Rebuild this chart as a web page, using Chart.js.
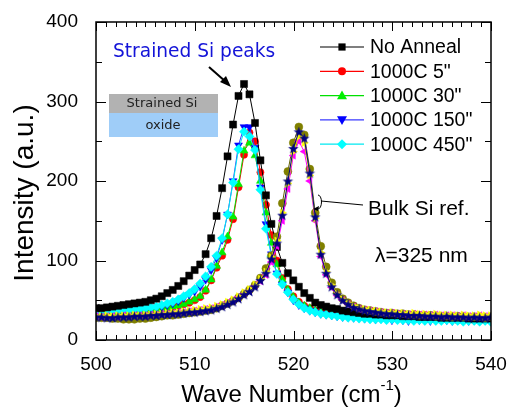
<!DOCTYPE html>
<html>
<head>
<meta charset="utf-8">
<script src="https://cdn.jsdelivr.net/npm/chart.js@4.4.1/dist/chart.umd.min.js"></script>
<style>
  html, body { margin: 0; padding: 0; background: #fff; }
  #wrap { width: 512px; height: 410px; }
</style>
</head>
<body>
<div id="wrap"><canvas id="ramanChart" width="512" height="410"></canvas></div>
<script>
// ---- data ----
const waveNumbers = [
  500.00, 500.56, 501.11, 501.67, 502.22, 502.78, 503.33, 503.89, 504.44, 505.00,
  505.55, 506.11, 506.66, 507.22, 507.77, 508.33, 508.88, 509.44, 509.99, 510.55,
  511.10, 511.66, 512.21, 512.77, 513.32, 513.88, 514.43, 514.99, 515.54, 516.10,
  516.65, 517.21, 517.76, 518.32, 518.87, 519.43, 519.98, 520.54, 521.09, 521.65,
  522.20, 522.76, 523.31, 523.87, 524.42, 524.98, 525.53, 526.09, 526.64, 527.20,
  527.75, 528.31, 528.86, 529.42, 529.97, 530.53, 531.08, 531.64, 532.19, 532.75,
  533.30, 533.86, 534.41, 534.97, 535.52, 536.08, 536.63, 537.19, 537.74, 538.30,
  538.85, 539.41, 539.96
];

// strained Si samples
const noAnneal = [
  40, 40, 41, 42, 43, 44, 45, 46, 47, 48,
  50, 52, 55, 59, 63, 68, 74, 81, 88, 95,
  108, 128, 156, 191, 231, 271, 307, 322, 309, 273,
  226, 182, 146, 117, 97, 84, 75, 67, 59, 53,
  47, 44, 42, 40, 39, 37, 36, 35, 34, 33,
  33, 32, 32, 31, 31, 31, 30, 30, 30, 29,
  29, 29, 29, 28, 28, 28, 28, 28, 27, 27,
  27, 27, 27
];
const anneal5 = [
  34, 34, 34, 35, 35, 35, 36, 36, 36, 37,
  37, 38, 39, 40, 41, 43, 45, 47, 50, 54,
  62, 75, 91, 106, 126, 152, 192, 233, 261, 250,
  211, 170, 132, 100, 78, 64, 55, 48, 43, 40,
  37, 35, 34, 33, 32, 31, 30, 30, 29, 29,
  28, 28, 28, 27, 27, 27, 27, 26, 26, 27,
  26, 26, 26, 27, 26, 26, 25, 26, 26, 25,
  26, 25, 25
];
const anneal30 = [
  34, 34, 35, 35, 35, 36, 36, 36, 37, 37,
  38, 38, 39, 40, 42, 43, 45, 48, 51, 55,
  63, 76, 93, 110, 130, 155, 196, 238, 248, 232,
  200, 160, 122, 95, 76, 63, 54, 47, 43, 40,
  37, 35, 33, 32, 31, 30, 30, 29, 29, 28,
  28, 28, 27, 27, 27, 26, 26, 26, 26, 26,
  26, 25, 26, 26, 25, 25, 26, 25, 25, 25,
  25, 25, 26
];
const anneal150 = [
  35, 35, 35, 36, 36, 36, 37, 37, 38, 39,
  40, 41, 42, 44, 46, 49, 53, 57, 61, 67,
  76, 88, 103, 126, 158, 200, 245, 268, 268, 242,
  192, 146, 108, 84, 70, 60, 50, 44, 40, 37,
  35, 33, 32, 31, 30, 29, 29, 28, 28, 27,
  27, 26, 27, 26, 25, 26, 25, 24, 26, 25,
  25, 24, 25, 26, 25, 24, 25, 25, 24, 25,
  24, 25, 24
];
const anneal450 = [
  36, 36, 37, 37, 37, 38, 38, 39, 39, 40,
  41, 42, 44, 46, 48, 51, 55, 59, 64, 71,
  80, 92, 106, 128, 158, 198, 240, 262, 256, 239,
  189, 140, 105, 83, 70, 60, 51, 45, 40, 37,
  35, 33, 32, 31, 30, 29, 28, 28, 27, 27,
  26, 26, 26, 25, 26, 25, 25, 25, 24, 25,
  24, 25, 24, 24, 25, 24, 24, 23, 24, 24,
  23, 24, 23
];

// bulk Si reference scans
const bulkOlive = [
  28, 28, 28, 27, 27, 26, 26, 26, 27, 27,
  28, 29, 30, 31, 31, 32, 33, 34, 35, 36,
  37, 38, 40, 43, 46, 49, 53, 58, 63, 69,
  78, 90, 106, 130, 172, 212, 248, 268, 258, 215,
  160, 118, 92, 72, 60, 52, 47, 43, 40, 38,
  37, 36, 35, 34, 34, 33, 33, 32, 32, 31,
  31, 31, 30, 30, 30, 29, 30, 29, 29, 29,
  29, 28, 29
];
const bulkMagenta = [
  30, 29, 30, 30, 29, 31, 30, 31, 31, 31,
  32, 32, 33, 33, 34, 35, 35, 36, 37, 38,
  39, 40, 42, 44, 47, 50, 54, 58, 62, 68,
  74, 82, 98, 118, 150, 190, 232, 250, 237, 200,
  150, 105, 82, 66, 56, 50, 45, 42, 39, 38,
  37, 36, 35, 34, 34, 33, 33, 32, 33, 32,
  32, 31, 32, 31, 31, 31, 30, 31, 30, 30,
  31, 30, 30
];
const bulkYellow = [
  30, 30, 31, 30, 31, 31, 31, 32, 31, 32,
  32, 33, 33, 34, 35, 35, 36, 37, 38, 39,
  40, 41, 43, 45, 48, 51, 55, 60, 64, 70,
  77, 86, 104, 125, 160, 197, 237, 256, 248, 207,
  153, 110, 86, 69, 58, 51, 46, 43, 40, 39,
  38, 37, 36, 35, 35, 34, 34, 33, 34, 33,
  33, 32, 33, 32, 32, 32, 31, 32, 31, 31,
  32, 31, 31
];
const bulkNavy = [
  29, 29, 28, 28, 29, 29, 29, 30, 30, 30,
  31, 31, 32, 32, 33, 33, 34, 35, 35, 36,
  37, 38, 40, 42, 45, 48, 52, 57, 61, 67,
  75, 84, 102, 122, 157, 200, 241, 262, 254, 210,
  155, 108, 84, 67, 57, 50, 45, 41, 39, 37,
  36, 35, 34, 33, 33, 32, 32, 31, 31, 31,
  30, 30, 30, 29, 30, 29, 29, 29, 28, 29,
  28, 28, 29
];

const xTicks = [500, 510, 520, 530, 540];
const yTicks = [0, 100, 200, 300, 400];
const legendLabels = ['No Anneal', '1000C 5"', '1000C 30"', '1000C 150"', '1000C 450"'];

const FONT = '"Liberation Sans", Arial, sans-serif';

function toPoints(values) {
  return values.map((v, i) => ({ x: waveNumbers[i], y: v }));
}

// filled five point star used for one bulk reference scan
function makeStar(color, r) {
  const c = document.createElement('canvas');
  const s = Math.ceil(r * 2 + 2);
  c.width = s; c.height = s;
  const g = c.getContext('2d');
  g.fillStyle = color;
  g.beginPath();
  for (let i = 0; i < 10; i++) {
    const rr = i % 2 === 0 ? r : r * 0.42;
    const a = -Math.PI / 2 + i * Math.PI / 5;
    const px = s / 2 + rr * Math.cos(a);
    const py = s / 2 + 0.5 + rr * Math.sin(a);
    if (i === 0) g.moveTo(px, py); else g.lineTo(px, py);
  }
  g.closePath();
  g.fill();
  return c;
}

function series(label, values, color, lineColor, style, radius, rotation, order) {
  return {
    label: label,
    data: toPoints(values),
    borderColor: lineColor,
    backgroundColor: color,
    borderWidth: 1,
    pointStyle: style,
    pointRadius: radius,
    pointRotation: rotation,
    pointBackgroundColor: color,
    pointBorderColor: color,
    pointBorderWidth: 0.5,
    tension: 0,
    order: order
  };
}

// small marker drawer for the hand placed legend
function legendMarker(ctx, style, x, y, color) {
  ctx.fillStyle = color;
  ctx.beginPath();
  if (style === 'rect') {
    ctx.rect(x - 3.6, y - 3.6, 7.2, 7.2);
  } else if (style === 'circle') {
    ctx.arc(x, y, 4, 0, Math.PI * 2);
  } else if (style === 'up') {
    ctx.moveTo(x, y - 5); ctx.lineTo(x + 5, y + 3.6); ctx.lineTo(x - 5, y + 3.6);
  } else if (style === 'down') {
    ctx.moveTo(x, y + 5); ctx.lineTo(x + 5, y - 3.6); ctx.lineTo(x - 5, y - 3.6);
  } else if (style === 'diamond') {
    ctx.moveTo(x, y - 5); ctx.lineTo(x + 5, y); ctx.lineTo(x, y + 5); ctx.lineTo(x - 5, y);
  }
  ctx.closePath();
  ctx.fill();
}

const decorations = {
  id: 'decorations',
  afterDatasetsDraw(chart) {
    const ctx = chart.ctx;
    const area = chart.chartArea;
    const xs = chart.scales.x;
    const ys = chart.scales.y;
    ctx.save();

    // inward ticks on all four sides
    ctx.strokeStyle = '#000';
    ctx.lineWidth = 1;
    ctx.beginPath();
    for (let w = 500; w <= 540; w++) {
      const px = Math.round(xs.getPixelForValue(w)) + 0.5;
      const len = (w % 10 === 0) ? 9 : 5;
      ctx.moveTo(px, area.bottom); ctx.lineTo(px, area.bottom - len);
      ctx.moveTo(px, area.top); ctx.lineTo(px, area.top + len);
    }
    for (let v = 0; v <= 400; v += 50) {
      const py = Math.round(ys.getPixelForValue(v)) + 0.5;
      const len = (v % 100 === 0) ? 10 : 6;
      ctx.moveTo(area.left, py); ctx.lineTo(area.left + len, py);
      ctx.moveTo(area.right, py); ctx.lineTo(area.right - len, py);
    }
    ctx.stroke();

    // frame
    ctx.lineWidth = 1.5;
    ctx.strokeRect(area.left, area.top, area.right - area.left, area.bottom - area.top);

    // legend
    const styles = ['rect', 'circle', 'up', 'down', 'diamond'];
    for (let i = 0; i < legendLabels.length; i++) {
      const ds = chart.data.datasets[i];
      const y = 47 + i * 24.3;
      ctx.strokeStyle = ds.borderColor;
      ctx.lineWidth = 1.2;
      ctx.beginPath();
      ctx.moveTo(320, y); ctx.lineTo(364, y);
      ctx.stroke();
      legendMarker(ctx, styles[i], 342, y, ds.pointBackgroundColor);
      ctx.fillStyle = '#000';
      ctx.font = '19.5px ' + FONT;
      ctx.textAlign = 'left';
      ctx.textBaseline = 'middle';
      ctx.fillText(legendLabels[i], 370, y + 1);
    }

    // layer sketch
    ctx.fillStyle = '#b2b2b2';
    ctx.fillRect(109, 94, 109, 19);
    ctx.fillStyle = '#9fcdf8';
    ctx.fillRect(109, 113, 109, 24);
    ctx.fillStyle = '#222';
    ctx.font = '13px "DejaVu Sans", Verdana, sans-serif';
    ctx.textAlign = 'center';
    ctx.fillText('Strained Si', 162, 104);
    ctx.fillText('oxide', 163, 126);

    // strained Si label and arrow
    ctx.fillStyle = '#1414d8';
    ctx.font = '18.6px "DejaVu Sans", Verdana, sans-serif';
    ctx.textAlign = 'left';
    ctx.fillText('Strained Si peaks', 113, 52);
    ctx.strokeStyle = '#000';
    ctx.fillStyle = '#000';
    ctx.lineWidth = 2;
    ctx.beginPath();
    ctx.moveTo(209, 67); ctx.lineTo(226, 82);
    ctx.stroke();
    ctx.beginPath();
    ctx.moveTo(231, 87); ctx.lineTo(220, 82); ctx.lineTo(226, 76);
    ctx.closePath();
    ctx.fill();

    // bulk Si pointer
    ctx.lineWidth = 1;
    ctx.beginPath();
    ctx.ellipse(318, 202, 3.5, 7, 0, -Math.PI / 2, Math.PI / 2);
    ctx.stroke();
    ctx.beginPath();
    ctx.moveTo(321, 201); ctx.lineTo(363, 205);
    ctx.stroke();
    ctx.beginPath();
    ctx.moveTo(313, 209); ctx.lineTo(319, 206); ctx.lineTo(318, 211);
    ctx.closePath();
    ctx.fill();

    ctx.font = '21px ' + FONT;
    ctx.textBaseline = 'middle';
    ctx.fillText('Bulk Si ref.', 368, 209);
    ctx.fillText('\u03bb=325 nm', 375, 256);

    // axis titles
    ctx.font = '24px ' + FONT;
    const a = 'Wave Number (cm';
    const sup = '-1';
    const b = ')';
    const wa = ctx.measureText(a).width;
    const wb = ctx.measureText(b).width;
    ctx.font = '15px ' + FONT;
    const ws = ctx.measureText(sup).width;
    let x0 = (area.left + area.right) / 2 - (wa + ws + wb) / 2 - 2;
    ctx.textBaseline = 'alphabetic';
    ctx.font = '24px ' + FONT;
    ctx.fillText(a, x0, 402);
    ctx.font = '15px ' + FONT;
    ctx.fillText(sup, x0 + wa, 390);
    ctx.font = '24px ' + FONT;
    ctx.fillText(b, x0 + wa + ws, 402);

    ctx.save();
    ctx.translate(33, 193);
    ctx.rotate(-Math.PI / 2);
    ctx.textAlign = 'center';
    ctx.font = '28px ' + FONT;
    ctx.fillText('Intensity (a.u.)', 0, 0);
    ctx.restore();

    ctx.restore();
  }
};

function initChart() {
  const ctx = document.getElementById('ramanChart').getContext('2d');
  const star = makeStar('#000080', 5.5);
  new Chart(ctx, {
    type: 'line',
    data: {
      datasets: [
        series('No Anneal', noAnneal, '#000000', '#000000', 'rect', 5, 0, 4),
        series('1000C 5"', anneal5, '#ff0000', '#ff0000', 'circle', 3.6, 0, 8),
        series('1000C 30"', anneal30, '#00f000', '#00e000', 'triangle', 4.6, 0, 7),
        series('1000C 150"', anneal150, '#0000ff', '#3a3aff', 'triangle', 4.6, 180, 6),
        series('1000C 450"', anneal450, '#00ffff', '#00e8f0', 'rectRot', 4.6, 0, 5),
        series('bulk a', bulkOlive, '#808000', '#606000', 'circle', 4, 0, 3),
        series('bulk b', bulkMagenta, '#ff00ff', '#ff00ff', 'triangle', 4.2, -90, 2),
        series('bulk c', bulkYellow, '#ffff00', '#e0e000', 'triangle', 4.2, 90, 1),
        series('bulk d', bulkNavy, '#000080', '#000080', star, 5, 0, 0)
      ]
    },
    options: {
      responsive: false,
      animation: false,
      layout: { padding: { top: 22, right: 21, left: 0, bottom: 0 } },
      plugins: {
        legend: { display: false },
        tooltip: { enabled: false }
      },
      scales: {
        x: {
          type: 'linear',
          min: 500,
          max: 540,
          afterFit: s => { s.height = 70; },
          afterBuildTicks: s => { s.ticks = xTicks.map(v => ({ value: v })); },
          grid: { display: false },
          border: { display: false },
          ticks: {
            color: '#000',
            font: { family: FONT, size: 19 },
            padding: 5,
            maxRotation: 0
          }
        },
        y: {
          min: 0,
          max: 400,
          afterFit: s => { s.width = 96; },
          afterBuildTicks: s => { s.ticks = yTicks.map(v => ({ value: v })); },
          grid: { display: false },
          border: { display: false },
          ticks: {
            color: '#000',
            font: { family: FONT, size: 19 },
            padding: 10
          }
        }
      }
    },
    plugins: [decorations]
  });
}

document.addEventListener('DOMContentLoaded', function() {
  initChart();
});
</script>
</body>
</html>
